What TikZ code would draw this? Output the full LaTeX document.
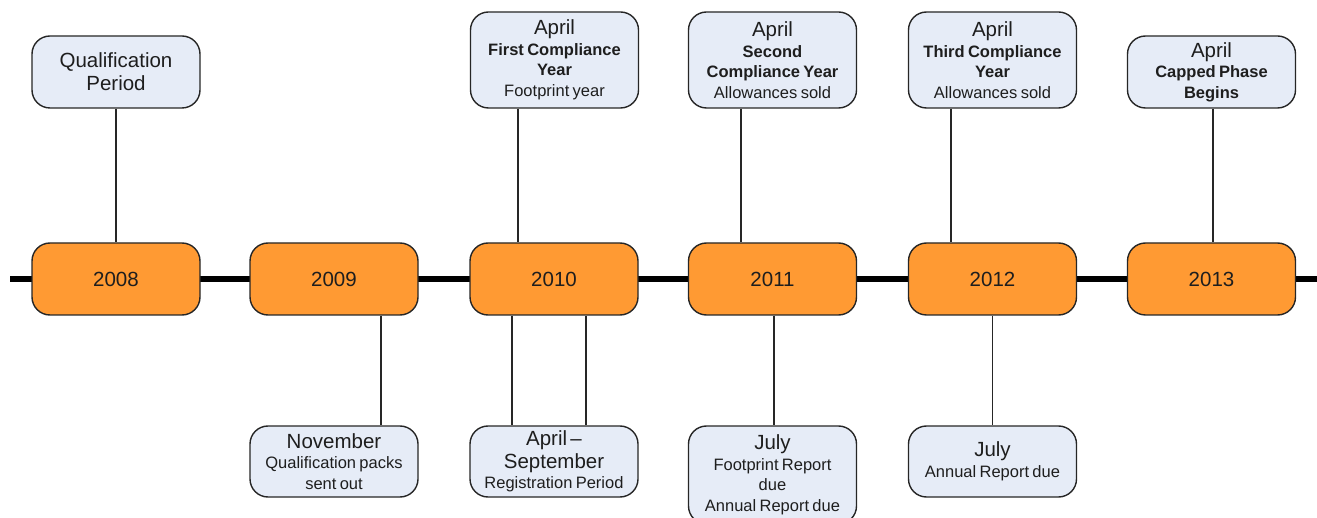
\documentclass[tikz,border=0pt]{standalone}
\usepackage{fontspec}
\setmainfont{Liberation Sans}
\definecolor{boxblue}{HTML}{E6ECF7}
\definecolor{yearorange}{HTML}{FF9A33}
\definecolor{edgegray}{HTML}{262626}
\definecolor{txt}{HTML}{1E1E1E}
\newcommand{\Lfont}{\fontsize{20.5}{23}\selectfont}
\newcommand{\Sfont}{\fontsize{16.5}{20.5}\selectfont}
\begin{document}
\begin{tikzpicture}[x=1pt,y=-1pt,
  basebox/.style={draw=edgegray, line width=1.4pt, rounded corners=18pt, inner sep=1pt,
    text width=164pt, align=center, minimum width=168pt, text=txt},
  infobox/.style={basebox, fill=boxblue, minimum height=72pt},
  yearbox/.style={basebox, fill=yearorange, minimum height=72pt, font=\Lfont},
  link/.style={draw=edgegray, line width=1.4pt},
  axis/.style={draw=black, line width=6pt}]
\useasboundingbox (0,0) rectangle (1317,518);
% timeline
\coordinate (tl) at (10,279);
\coordinate (tr) at (1320,279);
\draw[axis] (tl) -- (tr);
% year boxes
\node[yearbox] (y08) at (116,279) {2008};
\node[yearbox] (y09) at (334,279) {2009};
\node[yearbox] (y10) at (554,279) {2010};
\node[yearbox] (y11) at (772.5,279) {2011};
\node[yearbox] (y12) at (992.5,279) {2012};
\node[yearbox] (y13) at (1211.5,279) {2013};
% top boxes
\node[infobox] (q08) at (116,72) {{\Lfont Qualification\\Period\par}};
\node[infobox, minimum height=96pt] (a10) at (554.5,60)
  {{\Lfont April\par}{\Sfont\bfseries First Compliance\\Year\par}{\Sfont Footprint year\par}};
\node[infobox, minimum height=96pt] (a11) at (772.5,60)
  {{\Lfont April\par}{\Sfont\bfseries Second\\Compliance Year\par}{\Sfont Allowances sold\par}};
\node[infobox, minimum height=96pt] (a12) at (992.5,60)
  {{\Lfont April\par}{\Sfont\bfseries Third Compliance\\Year\par}{\Sfont Allowances sold\par}};
\node[infobox] (a13) at (1211.5,72)
  {{\Lfont April\par}{\Sfont\bfseries Capped Phase\\Begins\par}};
% bottom boxes
\node[infobox, minimum height=71pt] (nov) at (334,461.5)
  {{\Lfont November\par}{\Sfont Qualification packs\\sent out\par}};
\node[infobox, minimum height=71pt] (reg) at (554,461.5)
  {{\Lfont April --\\September\par}{\Sfont Registration Period\par}};
\node[infobox, minimum height=98pt] (j11) at (772.5,475)
  {{\Lfont July\par}{\Sfont Footprint Report\\due\\Annual Report due\par}};
\node[infobox, minimum height=71pt] (j12) at (992.5,461.5)
  {{\Lfont July\par}{\Sfont Annual Report due\par}};
% connectors
\draw[link] (q08.south) -- (y08.north);
\draw[link] ([xshift=-36.5pt]a10.south) -- ([xshift=-36pt]y10.north);
\draw[link] ([xshift=-31.5pt]a11.south) -- ([xshift=-31.5pt]y11.north);
\draw[link] ([xshift=-41.5pt]a12.south) -- ([xshift=-41.5pt]y12.north);
\draw[link] ([xshift=1.5pt]a13.south) -- ([xshift=1.5pt]y13.north);
\draw[link] ([xshift=47pt]y09.south) -- ([xshift=47pt]nov.north);
\draw[link] ([xshift=-42pt]y10.south) -- ([xshift=-42pt]reg.north);
\draw[link] ([xshift=32pt]y10.south) -- ([xshift=32pt]reg.north);
\draw[link] ([xshift=1.5pt]y11.south) -- ([xshift=1.5pt]j11.north);
\draw[link] (y12.south) -- (j12.north);
\end{tikzpicture}
\end{document}
